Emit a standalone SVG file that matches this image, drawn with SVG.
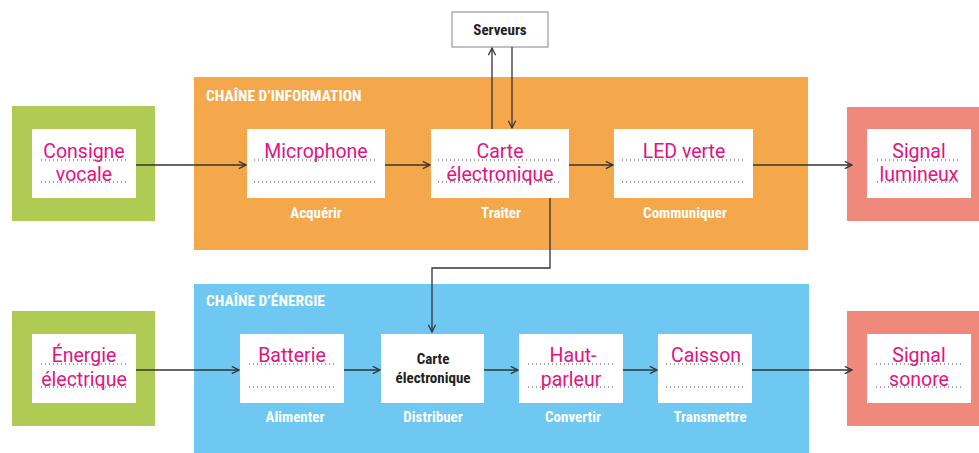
<svg xmlns="http://www.w3.org/2000/svg" width="979" height="453" viewBox="0 0 979 453">
<defs>
<marker id="arr" viewBox="0 0 10 10" refX="9" refY="5" markerWidth="9" markerHeight="9" markerUnits="userSpaceOnUse" orient="auto">
<path d="M1,1 L9,5 L1,9" fill="none" stroke="#333" stroke-width="1.4"/>
</marker>
<style>
.green{fill:#afcb54}
.red{fill:#ee897c}
.white{fill:#fff}
.dot{stroke:#444;stroke-width:1.1;stroke-dasharray:1 3;fill:none}
.pink{font-family:Roboto,"Liberation Sans",sans-serif;font-size:19.5px;fill:#e3127f;text-anchor:middle}
.lab{font-family:"Liberation Sans Narrow","Roboto Condensed",Roboto,sans-serif;font-weight:bold;font-size:15px;fill:#fff;text-anchor:middle}
.title{font-family:"Liberation Sans Narrow","Roboto Condensed",Roboto,sans-serif;font-weight:bold;font-size:15.5px;fill:#fff}
.blk{font-family:"Liberation Sans Narrow","Roboto Condensed",Roboto,sans-serif;font-weight:bold;font-size:15px;fill:#222;text-anchor:middle}
.con{stroke:#333;stroke-width:1.3;fill:none}
</style>
</defs>
<rect width="979" height="453" fill="#fff"/>
<g id="chaine-information">
<rect x="194" y="77" width="614" height="173" fill="#f5a84b"/>
<text class="title" x="206" y="101">CHAÎNE D’INFORMATION</text>
</g>
<g id="chaine-energie">
<rect x="194" y="284" width="615" height="169" fill="#6ec8f2"/>
<text class="title" x="206" y="306">CHAÎNE D’ÉNERGIE</text>
</g>
<g id="serveurs">
<rect x="452" y="12" width="96" height="35" fill="#fff" stroke="#999" stroke-width="1.2"/>
<text class="blk" x="500" y="35">Serveurs</text>
</g>
<g id="consigne">
<rect class="green" x="12" y="106" width="143" height="115"/>
<rect class="white" x="32" y="129" width="104" height="69"/>
<line class="dot" x1="41" y1="160" x2="127" y2="160"/>
<line class="dot" x1="41" y1="182" x2="127" y2="182"/>
<text class="pink" x="84" y="158">Consigne</text>
<text class="pink" x="84" y="181">vocale</text>
</g>
<g id="microphone">
<rect class="white" x="247" y="129" width="138" height="69"/>
<line class="dot" x1="254" y1="160" x2="376" y2="160"/>
<line class="dot" x1="254" y1="182" x2="376" y2="182"/>
<text class="pink" x="316" y="158">Microphone</text>
<text class="lab" x="316" y="218">Acquérir</text>
</g>
<g id="carte-info">
<rect class="white" x="431" y="129" width="138" height="69"/>
<line class="dot" x1="438" y1="160" x2="561" y2="160"/>
<line class="dot" x1="438" y1="182" x2="561" y2="182"/>
<text class="pink" x="500" y="158">Carte</text>
<text class="pink" x="500" y="181">électronique</text>
<text class="lab" x="501" y="218">Traiter</text>
</g>
<g id="led">
<rect class="white" x="614" y="129" width="139" height="69"/>
<line class="dot" x1="622" y1="160" x2="744" y2="160"/>
<line class="dot" x1="622" y1="182" x2="744" y2="182"/>
<text class="pink" x="684" y="158">LED verte</text>
<text class="lab" x="685" y="218">Communiquer</text>
</g>
<g id="signal-lumineux">
<rect class="red" x="847" y="107" width="132" height="114"/>
<rect class="white" x="867" y="129" width="104" height="69"/>
<line class="dot" x1="877" y1="160" x2="961" y2="160"/>
<line class="dot" x1="877" y1="182" x2="961" y2="182"/>
<text class="pink" x="919" y="158">Signal</text>
<text class="pink" x="919" y="181">lumineux</text>
</g>
<g id="energie-electrique">
<rect class="green" x="12" y="311" width="143" height="115"/>
<rect class="white" x="32" y="334" width="104" height="69"/>
<line class="dot" x1="41" y1="364" x2="127" y2="364"/>
<line class="dot" x1="41" y1="387" x2="127" y2="387"/>
<text class="pink" x="84" y="362">Énergie</text>
<text class="pink" x="84" y="386">électrique</text>
</g>
<g id="batterie">
<rect class="white" x="240" y="334" width="104" height="69"/>
<line class="dot" x1="249" y1="364" x2="335" y2="364"/>
<line class="dot" x1="249" y1="387" x2="335" y2="387"/>
<text class="pink" x="292" y="362">Batterie</text>
<text class="lab" x="295" y="422">Alimenter</text>
</g>
<g id="carte-energie">
<rect class="white" x="381" y="334" width="103" height="69"/>
<text class="blk" x="433" y="364" font-size="14">Carte</text>
<text class="blk" x="433" y="383" font-size="14">électronique</text>
<text class="lab" x="433" y="422">Distribuer</text>
</g>
<g id="haut-parleur">
<rect class="white" x="519" y="334" width="104" height="69"/>
<line class="dot" x1="528" y1="364" x2="614" y2="364"/>
<line class="dot" x1="528" y1="387" x2="614" y2="387"/>
<text class="pink" x="573" y="362">Haut-</text>
<text class="pink" x="571" y="386">parleur</text>
<text class="lab" x="573" y="422">Convertir</text>
</g>
<g id="caisson">
<rect class="white" x="658" y="334" width="94" height="69"/>
<line class="dot" x1="666" y1="364" x2="746" y2="364"/>
<line class="dot" x1="666" y1="387" x2="746" y2="387"/>
<text class="pink" x="706" y="362">Caisson</text>
<text class="lab" x="710" y="422">Transmettre</text>
</g>
<g id="signal-sonore">
<rect class="red" x="847" y="311" width="132" height="115"/>
<rect class="white" x="867" y="334" width="104" height="69"/>
<line class="dot" x1="876" y1="364" x2="962" y2="364"/>
<line class="dot" x1="876" y1="387" x2="962" y2="387"/>
<text class="pink" x="919" y="362">Signal</text>
<text class="pink" x="919" y="386">sonore</text>
</g>
<g id="connectors">
<line class="con" x1="136" y1="165" x2="246" y2="165" marker-end="url(#arr)"/>
<line class="con" x1="385" y1="165" x2="430" y2="165" marker-end="url(#arr)"/>
<line class="con" x1="569" y1="165" x2="613" y2="165" marker-end="url(#arr)"/>
<line class="con" x1="753" y1="165" x2="852" y2="165" marker-end="url(#arr)"/>
<line class="con" x1="492" y1="129" x2="492" y2="48" marker-end="url(#arr)"/>
<line class="con" x1="512" y1="47" x2="512" y2="128" marker-end="url(#arr)"/>
<polyline class="con" points="550,198 550,268 432,268 432,332" marker-end="url(#arr)"/>
<line class="con" x1="136" y1="370" x2="239" y2="370" marker-end="url(#arr)"/>
<line class="con" x1="344" y1="370" x2="380" y2="370" marker-end="url(#arr)"/>
<line class="con" x1="484" y1="370" x2="518" y2="370" marker-end="url(#arr)"/>
<line class="con" x1="623" y1="370" x2="657" y2="370" marker-end="url(#arr)"/>
<line class="con" x1="752" y1="370" x2="852" y2="370" marker-end="url(#arr)"/>
</g>
</svg>
